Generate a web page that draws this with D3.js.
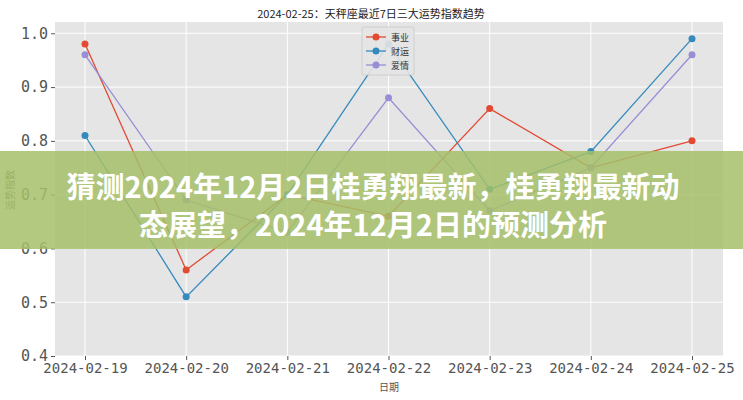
<!DOCTYPE html><html><head><meta charset="utf-8"><script src="https://cdn.jsdelivr.net/npm/d3@7"></script>
<style>body{margin:0;background:#fff}svg{display:block}</style></head><body><svg width="743" height="400"></svg>
<script>
const dates=["2024-02-19","2024-02-20","2024-02-21","2024-02-22","2024-02-23","2024-02-24","2024-02-25"];
const career=[0.98,0.56,0.70,0.66,0.86,0.75,0.80];
const wealth=[0.81,0.51,0.70,0.98,0.71,0.78,0.99];
const love=[0.96,0.69,0.63,0.88,0.67,0.75,0.96];
const seriesNames=["事业","财运","爱情"];
const colors=["#E24A33","#348ABD","#988ED5"];
const yTicks=[0.4,0.5,0.6,0.7,0.8,0.9,1.0];
const svg=d3.select("svg");
const L=55,R=723,T=22,B=356;
const x=d3.scalePoint().domain(dates).range([85,692]);
const y=d3.scaleLinear().domain([0.4,1.021]).range([B,T]);
const f="'Noto Sans CJK SC',sans-serif";
svg.append("rect").attr("x",L).attr("y",T).attr("width",R-L).attr("height",B-T).attr("fill","#E5E5E5");
const g=svg.append("g");
yTicks.forEach(t=>g.append("line").attr("x1",L).attr("x2",R).attr("y1",y(t)).attr("y2",y(t)).attr("stroke","#fff").attr("stroke-width",1));
dates.forEach(d=>g.append("line").attr("y1",T).attr("y2",B).attr("x1",x(d)).attr("x2",x(d)).attr("stroke","#fff"));
const ya=svg.append("g").attr("transform",`translate(${L},0)`).call(d3.axisLeft(y).tickValues(yTicks).tickFormat(d3.format(".1f")).tickSize(4));
const xa=svg.append("g").attr("transform",`translate(0,${B})`).call(d3.axisBottom(x).tickSize(4));
[ya,xa].forEach(a=>{a.select(".domain").remove();a.selectAll("line").attr("stroke","#555");a.selectAll("text").attr("fill","#555").attr("font-family","'DejaVu Sans Mono',monospace").attr("font-size",14);});
ya.selectAll("text").attr("font-size",15);
const data=[career,wealth,love];
data.forEach((s,i)=>{
 svg.append("path").datum(s).attr("fill","none").attr("stroke",colors[i]).attr("stroke-width",1.3)
  .attr("d",d3.line().x((v,j)=>x(dates[j])).y(v=>y(v)));
 svg.selectAll(null).data(s).enter().append("circle").attr("cx",(v,j)=>x(dates[j])).attr("cy",v=>y(v)).attr("r",3.5).attr("fill",colors[i]);
});
const lg=svg.append("g").attr("transform","translate(362,27)");
lg.append("rect").attr("width",32+20).attr("height",48).attr("fill","#E5E5E5").attr("stroke","#ccc").attr("rx",2).attr("opacity",0.9);
seriesNames.forEach((n,i)=>{const yy=10+i*14;
 lg.append("line").attr("x1",4).attr("x2",24).attr("y1",yy).attr("y2",yy).attr("stroke",colors[i]).attr("stroke-width",1.3);
 lg.append("circle").attr("cx",14).attr("cy",yy).attr("r",3.5).attr("fill",colors[i]);
 lg.append("text").attr("x",29).attr("y",yy+3.5).text(n).attr("font-size",9).attr("font-family",f).attr("fill","#333");});
svg.append("text").attr("x",371).attr("y",18).attr("text-anchor","middle").attr("font-size",11).attr("font-family",f).attr("fill","#222").text("2024-02-25：天秤座最近7日三大运势指数趋势");
svg.append("text").attr("x",389).attr("y",391).attr("text-anchor","middle").attr("font-size",10).attr("font-family",f).attr("fill","#555").text("日期");
svg.append("text").attr("transform","translate(14,190) rotate(-90)").attr("text-anchor","middle").attr("font-size",10).attr("font-family",f).attr("fill","#555").text("运势指数");
svg.append("rect").attr("x",0).attr("y",151).attr("width",743).attr("height",98).attr("fill","rgb(165,192,105)").attr("opacity",0.85);
const bt=svg.append("g").attr("font-family",f).attr("font-weight","bold").attr("font-size",29).attr("fill","#fff").attr("text-anchor","middle");
bt.append("text").attr("x",373).attr("y",198).text("猜测2024年12月2日桂勇翔最新，桂勇翔最新动");
bt.append("text").attr("x",373).attr("y",236).text("态展望，2024年12月2日的预测分析");
</script></body></html>
